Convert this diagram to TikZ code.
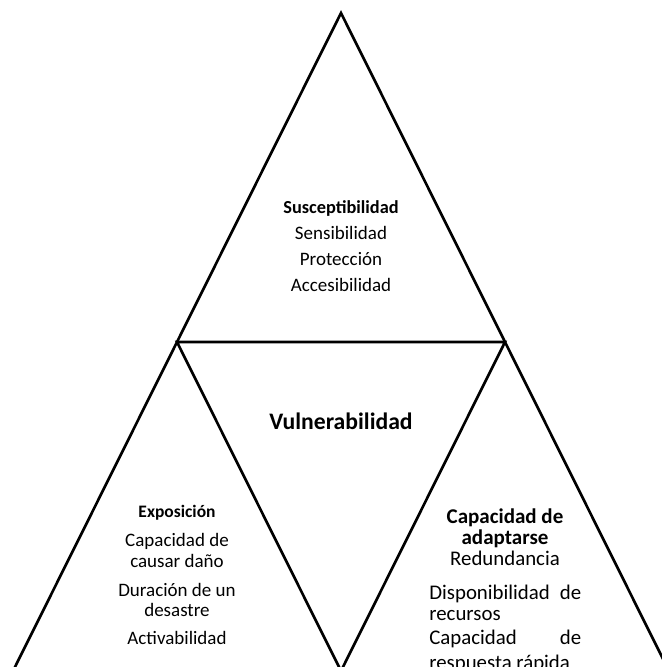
\documentclass[tikz,border=0pt]{standalone}
\usepackage{fontspec}
\setmainfont{Carlito}
\usetikzlibrary{positioning}

\begin{document}
\begin{tikzpicture}[x=0.6pt, y=0.6pt, line width=1.6pt,
	txt/.style={anchor=base, inner sep=0pt, font=\fontsize{11.4}{13}\selectfont},
	head/.style={txt, font=\fontsize{11}{13}\selectfont\bfseries},
	bigtxt/.style={txt, font=\fontsize{12.5}{14}\selectfont},
	bighead/.style={txt, font=\fontsize{12.6}{14}\selectfont\bfseries}]
	\useasboundingbox (0,0) rectangle (662,667);
	\clip (0,0) rectangle (662,667);
	% corners of the big triangle and midpoints of its sides
	\coordinate (top) at (341,654);
	\coordinate (botL) at (13,-4);
	\coordinate (botR) at (669,-4);
	\coordinate (midL) at (177,325);
	\coordinate (midR) at (505,325);
	\coordinate (midB) at (341,-4);
	\draw (botL) -- (top) -- (botR);
	\draw (midL) -- (midR) -- (midB) -- cycle;
	% upper triangle
	\node[head] (sus) at (341,453) {Susceptibilidad};
	\node[txt] (sen) at (341,427) {Sensibilidad};
	\node[txt] (pro) at (341,401) {Protección};
	\node[txt] (acc) at (341,375) {Accesibilidad};
	% centre
	\node[txt, font=\fontsize{14.2}{16}\selectfont\bfseries] (vul) at (341,237) {Vulnerabilidad};
	% left triangle
	\node[head, font=\fontsize{10.5}{12}\selectfont\bfseries] (exp) at (177,149) {Exposición};
	\node[txt] (dan1) at (177,120) {Capacidad de};
	\node[txt] (dan2) at (177,99) {causar daño};
	\node[txt] (dur1) at (177,70) {Duración de un};
	\node[txt] (dur2) at (177,50) {desastre};
	\node[txt] (act) at (177,22) {Activabilidad};
	% right triangle
	\node[bighead] (cap1) at (505,143) {Capacidad de};
	\node[bighead] (cap2) at (505,122) {adaptarse};
	\node[bigtxt] (red) at (505,101) {Redundancia};
	\node[bigtxt, anchor=base west, text width=91.2pt, align=left] (dis) at (428,68) {Disponibilidad\hfill de};
	\node[bigtxt, anchor=base west] (rec) at (428,46) {recursos};
	\node[bigtxt, anchor=base west, text width=91.2pt, align=left] (res1) at (428,22) {Capacidad\hfill de};
	\node[bigtxt, anchor=base west] (res2) at (428,-2) {respuesta rápida};
\end{tikzpicture}
\end{document}
